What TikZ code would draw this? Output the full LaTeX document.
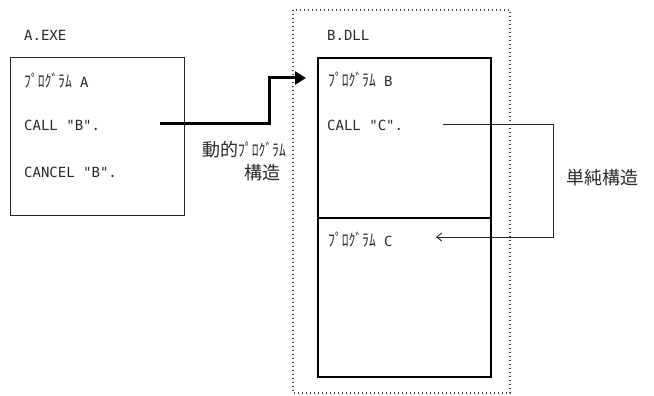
\documentclass[tikz,border=0pt]{standalone}
\usepackage{fontspec}
\newfontfamily\jp{Noto Sans CJK JP}
\newfontfamily\jpn[FakeStretch=0.8]{Noto Sans CJK JP}
\newfontfamily\mono{DejaVu Sans Mono}
\usetikzlibrary{arrows.meta}
\definecolor{txt}{HTML}{2A2A2A}
\newcommand{\kana}[1]{{\jpn\fontsize{17}{17}\selectfont #1}}
\begin{document}
\begin{tikzpicture}[x=1pt,y=-1pt,
  lbl/.style={anchor=west,inner sep=0pt,text=txt,font=\mono\fontsize{14}{14}\selectfont},
  jlbl/.style={inner sep=0pt,text=txt,font=\jp\fontsize{18}{18}\selectfont},
  thinbox/.style={draw=black!85,line width=1.3pt},
  thickbox/.style={draw=black,line width=2pt},
  dotbox/.style={draw=black!75,line width=1.2pt,dash pattern=on 1.2pt off 2.8pt},
  bigarrow/.style={line width=3pt,-{Triangle[length=11pt,width=13pt]}},
  smallarrow/.style={line width=0.9pt,draw=black!85,-{Straight Barb[length=5pt,width=8pt]}}]
\useasboundingbox (0,0) rectangle (654,396);
% dotted DLL frame
\draw[dotbox] (293,10) rectangle (510,393);
% boxes
\node[thinbox,minimum width=174pt,minimum height=158pt,inner sep=0pt,anchor=north west] (boxA) at (10,57) {};
\node[thickbox,minimum width=173pt,minimum height=160pt,inner sep=0pt,anchor=north west] (boxB) at (317,57) {};
\node[thickbox,minimum width=173pt,minimum height=159pt,inner sep=0pt,anchor=north west] (boxC) at (317,217) {};
% labels
\node[lbl] (aexe) at (24,35) {A.EXE};
\node[lbl] (progA) at (24,81) {\kana{ﾌﾟﾛｸﾞﾗﾑ} A};
\node[lbl] (callB) at (24,125) {CALL "B".};
\node[lbl] (cancelB) at (24,172) {CANCEL "B".};
\node[lbl] (bdll) at (327,35) {B.DLL};
\node[lbl] (progB) at (328,80) {\kana{ﾌﾟﾛｸﾞﾗﾑ} B};
\node[lbl] (callC) at (327,125) {CALL "C".};
\node[lbl] (progC) at (328,240) {\kana{ﾌﾟﾛｸﾞﾗﾑ} C};
\node[jlbl,anchor=east] (dyn1) at (286,150) {動的\kana{ﾌﾟﾛｸﾞﾗﾑ}};
\node[jlbl,anchor=east] (dyn2) at (281,173) {構造};
\node[jlbl,anchor=west] (simple) at (566,178) {単純構造};
% connectors
\coordinate (tipB) at (306,78);
\coordinate (endC) at (436,237);
\draw[bigarrow] (160,124) -| (269,78) -- (tipB);
\draw[smallarrow] (443,124) -- (553,124) |- (endC);
\end{tikzpicture}
\end{document}
